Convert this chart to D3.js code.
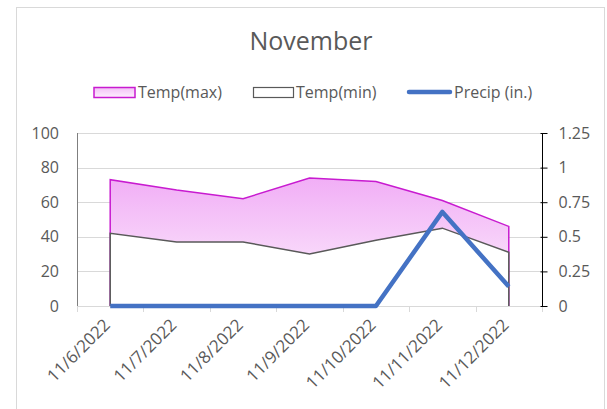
<html>
<body style="margin:0">
<svg class="chart"></svg>
</body>
<style>
  text { font-family: "Open Sans", sans-serif; fill: #595959; }
</style>

<script src="https://d3js.org/d3.v7.min.js"></script>
<script>
  var days = ["11/6/2022", "11/7/2022", "11/8/2022", "11/9/2022", "11/10/2022", "11/11/2022", "11/12/2022"];
  var tempMax = [73, 67, 62, 74, 72, 61, 46];
  var tempMin = [42, 37, 37, 30, 38, 45, 31];
  var precip = [0, 0, 0, 0, 0, 0.68, 0.14];
  var tempTicks = [0, 20, 40, 60, 80, 100];
  var precipTicks = [0, 0.25, 0.5, 0.75, 1, 1.25];

  var width = 607;
  var height = 409;
  var plotLeft = 77, plotRight = 542, plotTop = 133, plotBottom = 306;

  var chart = d3.select(".chart")
    .attr("width", width)
    .attr("height", height);

  var defs = chart.append("defs");
  var grad = defs.append("linearGradient")
    .attr("id", "pink")
    .attr("x1", 0).attr("y1", 0).attr("x2", 0).attr("y2", 1);
  grad.append("stop").attr("offset", 0).attr("stop-color", "#f1aef6");
  grad.append("stop").attr("offset", 1).attr("stop-color", "#fdf2fd");

  // outer border
  chart.append("rect")
    .attr("x", 16.5).attr("y", 7.5)
    .attr("width", 588).attr("height", 410)
    .attr("fill", "white").attr("stroke", "#d9d9d9");

  var x = d3.scaleBand().domain(days).range([plotLeft, plotRight]);
  var y = d3.scaleLinear().domain([0, 100]).range([plotBottom, plotTop]);
  var y2 = d3.scaleLinear().domain([0, 1.25]).range([plotBottom, plotTop]);
  var cx = function(d, i) { return x(days[i]) + x.bandwidth() / 2; };

  // gridlines
  chart.append("g").selectAll("line")
    .data(tempTicks)
    .enter().append("line")
      .attr("x1", plotLeft).attr("x2", plotRight)
      .attr("y1", function(d) { return Math.round(y(d)) + 0.5; })
      .attr("y2", function(d) { return Math.round(y(d)) + 0.5; })
      .attr("stroke", "#d9d9d9");

  // x axis ticks
  chart.append("g").selectAll("line")
    .data(days.concat(["end"]))
    .enter().append("line")
      .attr("x1", function(d, i) { return Math.round(plotLeft + i * x.bandwidth()) + 0.5; })
      .attr("x2", function(d, i) { return Math.round(plotLeft + i * x.bandwidth()) + 0.5; })
      .attr("y1", plotBottom).attr("y2", plotBottom + 6)
      .attr("stroke", "#d9d9d9");

  // left axis line
  chart.append("line")
    .attr("x1", plotLeft + 0.5).attr("x2", plotLeft + 0.5)
    .attr("y1", plotTop).attr("y2", plotBottom)
    .attr("stroke", "#7f7f7f");

  // areas
  var areaMax = d3.area().x(cx).y0(y(0)).y1(function(d) { return y(d); });
  var edge = function(vals) {
    var pts = [[cx(0, 0), y(0)]];
    vals.forEach(function(v, i) { pts.push([cx(v, i), y(v)]); });
    pts.push([cx(0, vals.length - 1), y(0)]);
    return d3.line()(pts);
  };

  chart.append("path").attr("d", areaMax(tempMax)).attr("fill", "url(#pink)");
  chart.append("path").attr("d", edge(tempMax))
    .attr("fill", "none").attr("stroke", "#c81bd0").attr("stroke-width", 1.5);
  chart.append("path").attr("d", areaMax(tempMin)).attr("fill", "white");
  chart.append("path").attr("d", edge(tempMin))
    .attr("fill", "none").attr("stroke", "#595959").attr("stroke-width", 1.5);

  // precip line
  var line = d3.line().x(cx).y(function(d) { return y2(d); });
  chart.append("path").attr("d", line(precip))
    .attr("fill", "none").attr("stroke", "#4472c4")
    .attr("stroke-width", 4.5).attr("stroke-linejoin", "round");

  // right axis
  var rAxis = chart.append("g")
    .attr("transform", "translate(" + (plotRight + 0.5) + ",0)")
    .call(d3.axisRight(y2).tickValues(precipTicks).tickSize(5).tickPadding(11)
      .tickFormat(function(d) { return String(d); }));
  rAxis.select(".domain").attr("stroke", "#000").attr("d", "M0," + plotTop + "V" + plotBottom);
  rAxis.selectAll(".tick line").attr("stroke", "#000").attr("x1", -2);
  rAxis.selectAll("text").style("font-size", "16px").style("font-family", "Open Sans").attr("fill", "#595959");

  // left labels
  chart.append("g").selectAll("text")
    .data(tempTicks)
    .enter().append("text")
      .attr("x", 59)
      .attr("y", function(d) { return y(d) + 5.5; })
      .attr("text-anchor", "end")
      .style("font-size", "16px")
      .text(function(d) { return d; });

  // date labels
  chart.append("g").selectAll("text")
    .data(days)
    .enter().append("text")
      .attr("text-anchor", "end")
      .attr("transform", function(d, i) {
        return "translate(" + (cx(d, i) + 1) + "," + (plotBottom + 20) + ") rotate(-45)";
      })
      .style("font-size", "17px")
      .text(function(d) { return d; });

  // title
  chart.append("text")
    .attr("x", 311).attr("y", 50)
    .attr("text-anchor", "middle")
    .style("font-size", "25px")
    .text("November");

  // legend
  var lg = chart.append("g");
  var lgrad = defs.append("linearGradient")
    .attr("id", "pinkLeg")
    .attr("x1", 0).attr("y1", 0).attr("x2", 0).attr("y2", 1);
  lgrad.append("stop").attr("offset", 0).attr("stop-color", "#f3c0f7");
  lgrad.append("stop").attr("offset", 1).attr("stop-color", "#fdf0fd");
  lg.append("rect").attr("x", 94).attr("y", 87.5).attr("width", 41).attr("height", 10)
    .attr("fill", "url(#pinkLeg)").attr("stroke", "#c81bd0").attr("stroke-width", 1.5);
  lg.append("text").attr("x", 138).attr("y", 98).style("font-size", "16px").text("Temp(max)");
  lg.append("rect").attr("x", 253.5).attr("y", 87.5).attr("width", 40).attr("height", 10)
    .attr("fill", "white").attr("stroke", "#595959").attr("stroke-width", 1.2);
  lg.append("text").attr("x", 296).attr("y", 98).style("font-size", "16px").text("Temp(min)");
  lg.append("line").attr("x1", 409).attr("x2", 450).attr("y1", 92).attr("y2", 92)
    .attr("stroke", "#4472c4").attr("stroke-width", 4.5).attr("stroke-linecap", "round");
  lg.append("text").attr("x", 454).attr("y", 98).style("font-size", "16px").text("Precip (in.)");
</script>
</html>
